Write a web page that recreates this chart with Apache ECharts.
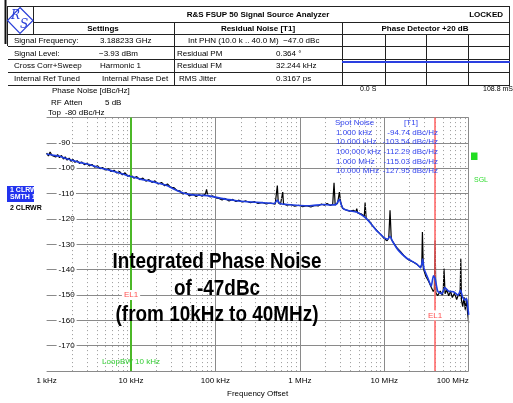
<!DOCTYPE html>
<html>
<head>
<meta charset="utf-8">
<script src="https://cdn.jsdelivr.net/npm/echarts@6/dist/echarts.min.js"></script>
<style>
html, body { margin: 0; padding: 0; background: #fff; }
#chart { width: 513px; height: 403px; }
</style>
</head>
<body>
<div id="chart"></div>
<script>
var FONT = '"Liberation Sans", Arial, sans-serif';

// axis ticks
var xTickValues = [1e3, 1e4, 1e5, 1e6, 1e7, 1e8];
var xTickLabels = ['1 kHz', '10 kHz', '100 kHz', '1 MHz', '10 MHz', '100 MHz'];

// smoothed trace (blue, trace 1 SMTH)
var blueFreq = [1e3, 1.2e3, 1.44e3, 1.7e3, 2.07e3, 2.5e3, 3.27e3, 4e3, 5.16e3, 6.5e3, 8e3, 1e4,
    1.3e4, 1.68e4, 2.1e4, 2.65e4, 3.3e4, 4.15e4, 5e4, 6e4, 7e4, 8e4, 1e5, 1.3e5, 1.7e5, 2.2e5,
    3e5, 4e5, 5e5, 5.4e5, 5.8e5, 7e5, 1e6, 1.3e6, 1.9e6, 2.3e6, 2.7e6, 2.94e6, 3.1e6, 3.3e6,
    3.9e6, 4.7e6, 5.5e6, 6.2e6, 7e6, 8.1e6, 9e6, 1e7, 1.1e7, 1.17e7, 1.25e7, 1.47e7, 1.85e7,
    2.43e7, 2.7e7, 2.85e7, 2.95e7, 3.3e7, 3.6e7, 3.82e7, 4e7, 4.3e7, 4.8e7, 5.2e7, 5.8e7,
    6.6e7, 7.5e7, 8e7, 8.5e7, 9e7, 9.4e7, 9.7e7, 1e8];
var blueVal = [-94.4, -94.9, -95.3, -96.2, -97.0, -97.8, -98.6, -99.6, -100.5, -101.4, -102.3, -103.3,
    -104.3, -105.1, -105.9, -106.8, -108.4, -109.8, -110.4, -110.6, -110.7, -110.8, -111.4, -112.2, -112.7, -113.1,
    -113.4, -113.7, -113.9, -112.6, -113.9, -114.3, -114.7, -114.8, -114.3, -114.5, -114.2, -112.3, -114.5, -116.1,
    -116.8, -117.3, -118.6, -120.0, -122.0, -124.6, -126.0, -127.5, -128.0, -126.8, -128.8, -132.4, -135.5,
    -137.8, -139.3, -135.8, -139.5, -143.5, -146.5, -142.4, -143.5, -148.5, -149.5, -147.1, -148.5,
    -148.7, -150.0, -148.0, -151.0, -152.0, -151.3, -154.0, -157.8];

// raw trace (black, trace 2)
var blackFreq = [1e3, 1.05e3, 1.1e3, 1.16e3, 1.22e3, 1.28e3, 1.35e3, 1.42e3, 1.5e3, 1.58e3, 1.66e3, 1.75e3,
    1.85e3, 1.95e3, 2.05e3, 2.17e3, 2.3e3, 2.45e3, 2.6e3, 2.8e3, 3e3, 3.2e3, 3.45e3, 3.7e3, 4e3, 4.3e3,
    4.6e3, 5e3, 5.4e3, 5.8e3, 6.3e3, 6.8e3, 7.3e3, 7.9e3, 8.5e3, 9.2e3, 1e4, 1.08e4, 1.17e4, 1.27e4,
    1.38e4, 1.5e4, 1.63e4, 1.77e4, 1.92e4, 2.1e4, 2.3e4, 2.5e4, 2.7e4, 2.95e4, 3.2e4, 3.5e4, 3.8e4,
    4.1e4, 4.5e4, 4.9e4, 5.4e4, 5.9e4, 6.4e4, 7e4, 7.6e4, 7.85e4, 8.1e4, 8.6e4, 9.3e4, 1e5, 1.1e5,
    1.2e5, 1.3e5, 1.45e5, 1.6e5, 1.75e5, 1.9e5, 2.1e5, 2.3e5, 2.6e5, 2.9e5, 3.2e5, 3.6e5, 4e5, 4.5e5,
    5.1e5, 5.3e5, 5.41e5, 5.55e5, 5.9e5, 6.15e5, 6.27e5, 6.4e5, 7e5, 7.8e5, 8.7e5, 9.7e5, 1.08e6,
    1.2e6, 1.35e6, 1.5e6, 1.65e6, 1.8e6, 1.95e6, 2.1e6, 2.3e6, 2.45e6, 2.54e6, 2.62e6, 2.8e6, 2.94e6,
    3.05e6, 3.2e6, 3.5e6, 3.9e6, 4.3e6, 4.6e6, 4.72e6, 4.85e6, 5.3e6, 5.8e6, 5.93e6, 6.1e6, 6.6e6,
    7.2e6, 7.8e6, 8.5e6, 9.2e6, 1e7, 1.08e7, 1.13e7, 1.17e7, 1.21e7, 1.3e7, 1.4e7, 1.55e7, 1.7e7,
    1.85e7, 2e7, 2.2e7, 2.43e7, 2.65e7, 2.78e7, 2.83e7, 2.9e7, 3.1e7, 3.35e7, 3.6e7, 3.8e7, 3.92e7,
    4e7, 4.08e7, 4.3e7, 4.6e7, 4.85e7, 5e7, 5.1e7, 5.25e7, 5.5e7, 5.8e7, 6.1e7, 6.4e7, 6.8e7, 7.2e7,
    7.6e7, 7.9e7, 8.06e7, 8.2e7, 8.5e7, 8.8e7, 9.1e7, 9.4e7, 9.7e7, 1e8];
var blackVal = [-94.0, -95.2, -93.6, -95.0, -94.3, -95.6, -94.6, -95.8, -95.0, -96.4, -95.5, -96.8,
    -96.0, -97.3, -96.5, -97.7, -97.0, -98.1, -97.5, -98.6, -98.0, -99.1, -98.5, -99.6, -99.0, -100.2,
    -99.7, -100.8, -100.2, -101.3, -100.8, -101.9, -101.3, -102.6, -101.8, -103.2, -102.6, -103.9, -103.3, -104.5,
    -103.9, -105.1, -104.5, -105.6, -105.0, -106.2, -105.6, -106.9, -106.2, -107.6, -107.6, -108.8, -108.9,
    -110.2, -109.6, -110.9, -110.3, -111.1, -110.5, -111.0, -110.2, -108.3, -110.6, -111.3, -110.9, -111.7, -111.9,
    -112.5, -111.9, -112.9, -112.3, -113.1, -112.6, -113.3, -112.9, -113.6, -113.2, -113.9, -113.5, -114.1, -113.7,
    -114.2, -113.9, -106.8, -113.6, -114.2, -113.8, -109.4, -114.0, -114.6, -114.3, -115.0, -114.6, -115.2,
    -114.8, -115.3, -114.7, -114.9, -114.1, -114.6, -113.9, -114.7, -114.2, -105.7, -114.5, -113.8, -109.4,
    -113.5, -115.8, -116.4, -116.9, -116.6, -117.2, -115.9, -117.6, -118.0, -118.8, -113.5, -119.8, -120.8,
    -122.5, -123.8, -125.2, -126.4, -127.8, -128.6, -127.5, -116.6, -128.0, -129.6, -131.2, -132.8, -134.4,
    -135.6, -136.4, -137.0, -137.9, -139.0, -138.2, -125.2, -139.5, -142.6, -144.6, -146.9, -148.6, -147.8,
    -128.5, -149.2, -150.2, -148.4, -150.0, -148.2, -139.6, -149.5, -148.0, -150.3, -148.5, -151.0, -149.2, -151.8,
    -149.6, -150.5, -135.7, -152.0, -154.6, -150.8, -155.8, -151.5, -157.0, -161.0];

// spot noise table
var spotLabels = ['1.000 kHz', '10.000 kHz', '100.000 kHz', '1.000 MHz', '10.000 MHz'];
var spotValues = ['-94.74 dBc/Hz', '-103.54 dBc/Hz', '-112.29 dBc/Hz', '-115.03 dBc/Hz', '-127.95 dBc/Hz'];

// marker lines
var loopBwFreq = 1e4;
var el1Freq = 4e7;

function pairs(xs, ys) {
    var out = [];
    for (var i = 0; i < xs.length; i++) out.push([xs[i], ys[i]]);
    return out;
}

// log grid: dotted at 2..9 per decade, solid at decades
var gridLines = [];
for (var k = 3; k <= 7; k++) {
    for (var m = 2; m <= 9; m++) {
        gridLines.push({ xAxis: m * Math.pow(10, k), lineStyle: { type: [1, 3], color: '#9a9a9a', width: 1 } });
    }
    gridLines.push({ xAxis: Math.pow(10, k + 1), lineStyle: { type: 'solid', color: '#8a8a8a', width: 1 } });
}

function txt(x, y, text, opt) {
    opt = opt || {};
    return {
        type: 'text', x: x, y: y, z: 10,
        style: {
            text: text,
            fontFamily: opt.family || FONT,
            fontSize: opt.size || 8,
            fontWeight: opt.bold ? 'bold' : 'normal',
            fontStyle: opt.italic ? 'italic' : 'normal',
            fill: opt.color || '#000',
            textAlign: opt.align || 'left',
            textVerticalAlign: 'middle'
        }
    };
}
function ln(x1, y1, x2, y2, color, w) {
    return {
        type: 'line', z: 10,
        shape: { x1: x1, y1: y1, x2: x2, y2: y2 },
        style: { stroke: color || '#222', lineWidth: w || 1 }
    };
}

var graphics = [];
// header table frame
graphics.push(ln(5.5, 0, 5.5, 44, '#111', 2));
graphics.push(ln(7, 6.5, 510, 6.5));
graphics.push(ln(7.5, 6, 7.5, 46));
graphics.push(ln(33.5, 6, 33.5, 34));
graphics.push(ln(33, 22.5, 510, 22.5));
graphics.push(ln(7, 34.5, 510, 34.5));
[46.5, 59.5, 72.5, 85.5].forEach(function (y) { graphics.push(ln(8, y, 510, y)); });
graphics.push(ln(174.5, 22, 174.5, 86));
graphics.push(ln(342.5, 22, 342.5, 86));
[385.5, 426.5, 468.5].forEach(function (x) { graphics.push(ln(x, 34, x, 86)); });
graphics.push(ln(509.5, 6, 509.5, 86));
graphics.push(ln(342, 62, 510, 62, '#2a3fe0', 2));

// logo
graphics.push({
    type: 'polygon', z: 10,
    shape: { points: [[20, 7.5], [33, 20.5], [20, 33.5], [7.5, 20.5]] },
    style: { fill: '#fff', stroke: '#2a3fd8', lineWidth: 1.2 }
});
graphics.push(txt(15.5, 16, 'R', { size: 12, color: '#2a3fd8', align: 'center', italic: true, family: '"DejaVu Serif", serif' }));
graphics.push(txt(24, 25, 'S', { size: 12, color: '#2a3fd8', align: 'center', italic: true, family: '"DejaVu Serif", serif' }));

graphics.push(txt(258, 14.5, 'R&S FSUP 50 Signal Source Analyzer', { bold: true, align: 'center' }));
graphics.push(txt(503, 14.5, 'LOCKED', { bold: true, align: 'right' }));
graphics.push(txt(103, 28.5, 'Settings', { bold: true, align: 'center' }));
graphics.push(txt(258, 28.5, 'Residual Noise [T1]', { bold: true, align: 'center' }));
graphics.push(txt(425, 28.5, 'Phase Detector +20 dB', { bold: true, align: 'center' }));

var rowY = [40.5, 53.5, 66, 79];
var col1 = ['Signal Frequency:', 'Signal Level:', 'Cross Corr+Sweep', 'Internal Ref Tuned'];
var col2 = ['3.188233 GHz', '\u22123.93 dBm', 'Harmonic 1', 'Internal Phase Det'];
var col3 = ['Int PHN (10.0 k .. 40.0 M)  \u221247.0 dBc', 'Residual PM', 'Residual FM', 'RMS Jitter'];
var col4 = ['', '0.364 \u00b0', '32.244 kHz', '0.3167 ps'];
var col2X = [100, 99, 100, 102];
var col3X = [188, 177, 177, 179];
for (var r = 0; r < 4; r++) {
    graphics.push(txt(14, rowY[r], col1[r]));
    graphics.push(txt(col2X[r], rowY[r], col2[r]));
    graphics.push(txt(col3X[r], rowY[r], col3[r]));
    if (col4[r]) graphics.push(txt(276, rowY[r], col4[r]));
}
graphics.push(txt(360, 89.5, '0.0 S', { size: 7 }));
graphics.push(txt(513, 89.5, '108.8 mS', { size: 7, align: 'right' }));

// trace settings text
graphics.push(txt(52, 91, 'Phase Noise [dBc/Hz]'));
graphics.push(txt(51, 102.5, 'RF Atten'));
graphics.push(txt(105, 102.5, '5 dB'));
graphics.push(txt(48, 113, 'Top'));
graphics.push(txt(65, 113, '-80 dBc/Hz'));

// trace legend at left
graphics.push({ type: 'rect', z: 10, shape: { x: 7, y: 186, width: 27, height: 16 }, style: { fill: '#2233ee' } });
graphics.push(txt(10, 190.5, '1 CLRW', { size: 7, bold: true, color: '#fff' }));
graphics.push(txt(10, 197.5, 'SMTH 1', { size: 7, bold: true, color: '#fff' }));
graphics.push(txt(10, 208.5, '2 CLRWR', { size: 7, bold: true }));

// right side markers
graphics.push({ type: 'rect', z: 10, shape: { x: 471, y: 152.5, width: 6.5, height: 7.5 }, style: { fill: '#22dd22' } });
graphics.push(txt(474, 180.5, 'SGL', { size: 7, color: '#33dd33' }));

// spot noise box
var spotColor = '#3344ee';
graphics.push(txt(335, 122.5, 'Spot Noise', { color: spotColor }));
graphics.push(txt(411, 122.5, '[T1]', { color: spotColor, align: 'center' }));
for (var s = 0; s < spotLabels.length; s++) {
    var sy = 132.5 + s * 9.6;
    graphics.push(txt(336, sy, spotLabels[s], { color: spotColor }));
    graphics.push(txt(438, sy, spotValues[s], { color: spotColor, align: 'right' }));
}

// annotation
['Integrated Phase Noise', 'of -47dBc', '(from 10kHz to 40MHz)'].forEach(function (t, i) {
    var g = txt(217, 262 + i * 26.5, t, { size: 22, bold: true, align: 'center' });
    g.scaleX = 0.86;
    graphics.push(g);
});

var chart = echarts.init(document.getElementById('chart'));
var option = {
    animation: false,
    backgroundColor: '#fff',
    grid: { left: 46.6, right: 44.3, top: 117.5, bottom: 29.3 },
    xAxis: {
        type: 'log', logBase: 10, min: 1e3, max: 1e8,
        axisLine: { show: false },
        axisTick: { show: false },
        splitLine: { show: false },
        axisLabel: {
            color: '#000', fontSize: 8, fontFamily: FONT, margin: 6,
            alignMinLabel: 'left', alignMaxLabel: 'right',
            formatter: function (v) {
                var i = Math.round(Math.log10(v)) - 3;
                return xTickLabels[i] || '';
            }
        },
        name: 'Frequency Offset',
        nameLocation: 'middle',
        nameGap: 17,
        nameTextStyle: { color: '#000', fontSize: 8, fontFamily: FONT }
    },
    yAxis: {
        type: 'value', min: -180, max: -80, interval: 10,
        axisLine: { show: false },
        axisTick: { show: false },
        splitLine: { lineStyle: { color: '#8a8a8a', width: 1 } },
        axisLabel: {
            inside: true, margin: 10, color: '#000', fontSize: 8, fontFamily: FONT,
            showMinLabel: false, showMaxLabel: false,
            backgroundColor: '#fff', padding: [0, 2]
        }
    },
    graphic: graphics,
    series: [
        {
            name: 'grid', type: 'line', data: [], silent: true, z: 1,
            markLine: {
                silent: true, symbol: ['none', 'none'], label: { show: false },
                animation: false, data: gridLines
            }
        },
        {
            name: 'markers', type: 'line', data: [], silent: true, z: 3,
            markLine: {
                silent: true, symbol: ['none', 'none'], label: { show: false }, animation: false,
                data: [
                    { xAxis: loopBwFreq, lineStyle: { type: 'solid', color: '#4cb828', width: 2 } },
                    { xAxis: el1Freq, lineStyle: { type: 'solid', color: '#ff6060', width: 1.5 } }
                ]
            },
            markPoint: {
                symbol: 'rect', symbolSize: 0, silent: true, animation: false,
                data: [
                    { coord: [loopBwFreq, -150], label: { formatter: 'EL1', color: '#ff5050' } },
                    { coord: [el1Freq, -158], label: { formatter: 'EL1', color: '#ff5050' } },
                    { coord: [loopBwFreq, -176.3], label: { formatter: 'LoopBW 10 kHz', color: '#33cc33', backgroundColor: 'transparent' } }
                ],
                label: {
                    show: true, position: 'inside', fontSize: 8, fontFamily: FONT,
                    backgroundColor: '#fff', padding: [1, 2]
                }
            }
        },
        {
            name: 'trace 2', type: 'line', z: 4,
            data: pairs(blackFreq, blackVal),
            showSymbol: false, symbol: 'none',
            lineStyle: { color: '#000', width: 1.2 }
        },
        {
            name: 'trace 1', type: 'line', z: 5,
            data: pairs(blueFreq, blueVal),
            showSymbol: false, symbol: 'none', smooth: 0.2,
            lineStyle: { color: '#1f3ee0', width: 1.6 }
        }
    ]
};
chart.setOption(option);
</script>
</body>
</html>
